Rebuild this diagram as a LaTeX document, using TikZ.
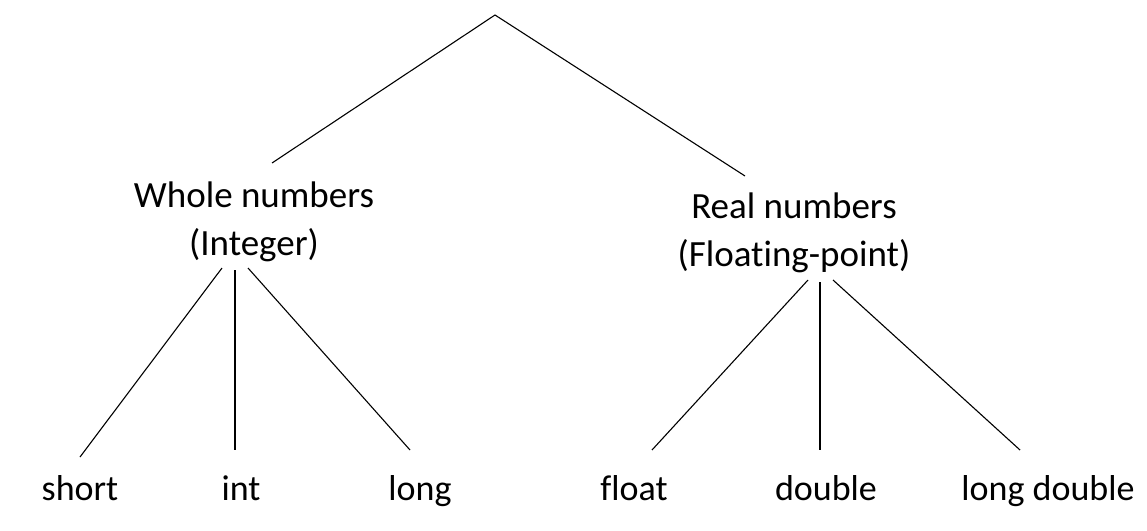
\documentclass[tikz,border=0pt]{standalone}
\usepackage{fontspec}
\setmainfont[Ligatures=NoCommon]{Carlito}
\begin{document}
\begin{tikzpicture}[x=1pt,y=-1pt,
  lbl/.style={inner sep=0pt,anchor=base,font=\fontsize{37}{48}\selectfont,align=center},
  leaf/.style={inner sep=0pt,anchor=base,font=\fontsize{36}{44}\selectfont},
  edge/.style={draw=black,line width=1.1pt}]
\useasboundingbox (0,0) rectangle (1147,530);
% text nodes (base anchor = baseline of last line)
\node[lbl] (whole) at (254,255) {Whole numbers\\(Integer)};
\node[lbl] (real) at (794,266) {Real numbers\\(Floating-point)};
\node[leaf] (short) at (80,500) {short};
\node[leaf] (int) at (241,500) {int};
\node[leaf] (long) at (420,500) {long};
\node[leaf] (float) at (634,500) {float};
\node[leaf] (double) at (826,500) {double};
\node[leaf] (ldouble) at (1048,500) {long double};
% line end points
\coordinate (apex) at (495,15);
\coordinate (wT) at (272,163);
\coordinate (rT) at (745,176);
\coordinate (wB1) at (222,268);
\coordinate (wB2) at (235,270);
\coordinate (wB3) at (248,268);
\coordinate (rB1) at (808,280);
\coordinate (rB2) at (820,282);
\coordinate (rB3) at (833,280);
\coordinate (sT) at (80,457);
\coordinate (iT) at (235,450);
\coordinate (lT) at (410,450);
\coordinate (fT) at (652,450);
\coordinate (dT) at (820,450);
\coordinate (ldT) at (1020,450);
% connectors
\draw[edge] (wT) -- (apex) -- (rT);
\draw[edge] (wB1) -- (sT);
\draw[edge] (wB2) -- (iT);
\draw[edge] (wB3) -- (lT);
\draw[edge] (rB1) -- (fT);
\draw[edge] (rB2) -- (dT);
\draw[edge] (rB3) -- (ldT);
\end{tikzpicture}
\end{document}
